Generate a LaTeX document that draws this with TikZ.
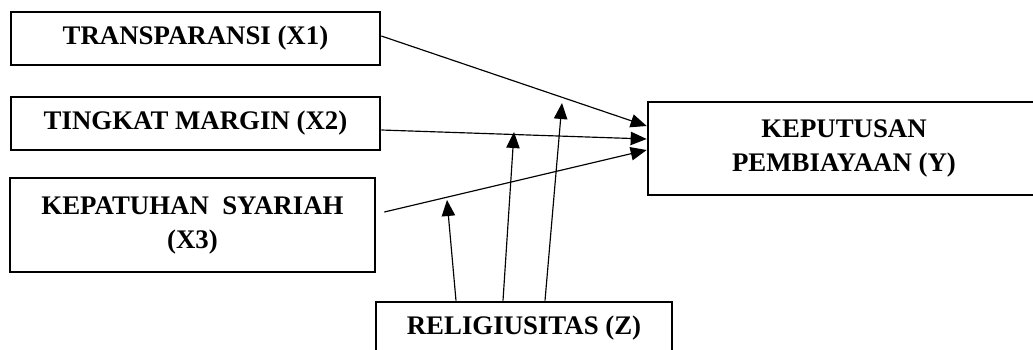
\documentclass[tikz,border=0pt]{standalone}
\usepackage{fontspec}
\setmainfont{Liberation Serif}
\usetikzlibrary{arrows.meta,positioning}

\begin{document}
\begin{tikzpicture}[x=0.3mm,y=-0.3mm]
\tikzstyle{every node}=[font=\fontsize{22.9}{29}\selectfont\bfseries]
\tikzstyle{var}=[draw, line width=0.8mm, align=center, inner sep=0pt]
\tikzstyle{link}=[-{Triangle[length=4.8mm,width=4mm]}, line width=0.35mm]
\useasboundingbox (0,0) rectangle (1033,349);
\node[var, minimum width=110.7mm, minimum height=15.9mm] (x1) at (195.5,38.5) {TRANSPARANSI (X1)};
\node[var, minimum width=110.7mm, minimum height=15.9mm] (x2) at (195.5,123.5) {TINGKAT MARGIN (X2)};
\node[var, minimum width=109.5mm, minimum height=28.2mm] (x3) at (192.5,225) {KEPATUHAN\ \ SYARIAH\\(X3)};
\node[var, minimum width=117.6mm, minimum height=27.9mm] (y) at (844,148.5) {KEPUTUSAN\\PEMBIAYAAN (Y)};
\node[var, minimum width=88.8mm, minimum height=15.9mm] (z) at (524,328.5) {RELIGIUSITAS (Z)};
% moderating points
\coordinate (m1) at (562,103);
\coordinate (m2) at (514,132);
\coordinate (m3) at (447,200);
\draw[link] ([yshift=0.75mm]x1.east) -- ([yshift=6.75mm]y.west);
\draw[link] ([yshift=-1.95mm]x2.east) -- ([yshift=2.85mm]y.west);
\draw[link] ([xshift=2.4mm,yshift=3.9mm]x3.east) -- ([yshift=-0.45mm]y.west);
\draw[link] ([xshift=-20.4mm]z.north) -- (m3);
\draw[link] ([xshift=-6.3mm]z.north) -- (m2);
\draw[link] ([xshift=6.3mm]z.north) -- (m1);
\end{tikzpicture}
\end{document}
